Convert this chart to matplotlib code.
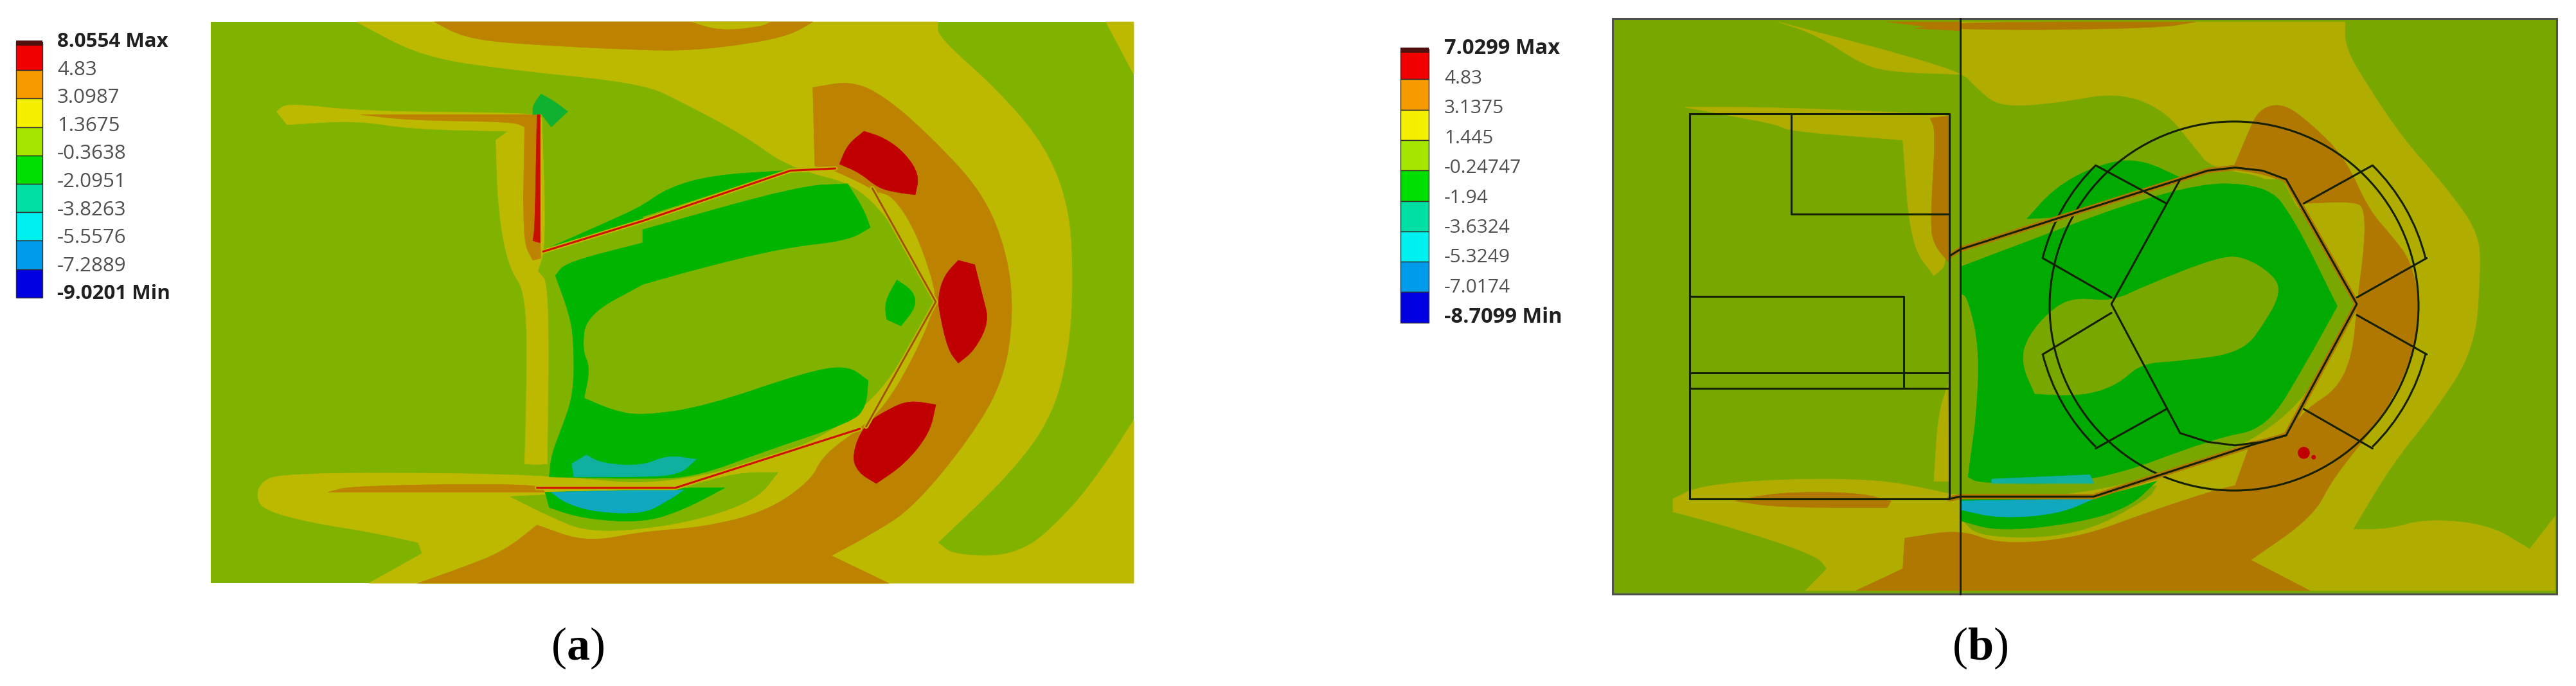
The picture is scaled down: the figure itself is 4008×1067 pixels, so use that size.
import matplotlib
matplotlib.use('Agg')
import numpy as np
import matplotlib.pyplot as plt
from matplotlib.patches import PathPatch, Rectangle, Circle, Arc
from matplotlib.path import Path

plt.rcParams['font.family'] = ['Open Sans', 'DejaVu Sans']
plt.rcParams['mathtext.fontset'] = 'custom'
plt.rcParams['mathtext.rm'] = 'Liberation Serif'
plt.rcParams['mathtext.bf'] = 'Liberation Serif:bold'

# ==========================================
# Crop coordinates -> figure pixels
# (outlines below were traced from zoomed crops of the picture)
# ==========================================
YS = 1.4695

def a1(pts):
    return [(x / 1.568, y / YS) for x, y in pts]

def a2(pts):
    return [(1000 + x / 1.568, y / YS) for x, y in pts]

def b1(pts):
    return [(2100 + x / 1.65, y / YS) for x, y in pts]

def b2(pts):
    return [(3050 + x / 1.637, y / YS) for x, y in pts]

# ==========================================
# Colour bands and legend labels
# ==========================================
BAND_COLORS = ['#F00000', '#F59B00', '#F5F000', '#A5E600', '#00E000',
               '#00E0A5', '#00F0F0', '#009BEB', '#0000E0']
LABELS_A = ['8.0554 Max', '4.83', '3.0987', '1.3675', '-0.3638', '-2.0951',
            '-3.8263', '-5.5576', '-7.2889', '-9.0201 Min']
LABELS_B = ['7.0299 Max', '4.83', '3.1375', '1.445', '-0.24747', '-1.94',
            '-3.6324', '-5.3249', '-7.0174', '-8.7099 Min']

# map colours of panel a and b
OLIVE_A, YEL_A, BRN_A, GRN_A = '#80B300', '#BDB800', '#BC8200', '#00B400'
OLIVE_B, YEL_B, BRN_B, GRN_B = '#78A800', '#B0AC00', '#B07800', '#00AA00'
RED, TEAL, CYAN = '#C00000', '#10B0A0', '#10A8BE'

# ==========================================
# Panel (a) contour regions
# ==========================================
A_YELLOW = (a1([(870, 50)]) + a2([(720, 50), (720, 85), (860, 200), (980, 330), (1040, 470), (1050, 640),
                                  (1040, 800), (1000, 950), (900, 1080), (720, 1240), (760, 1270), (920, 1270),
                                  (1040, 1170), (1130, 1060), (1198, 960), (1198, 1333)])
            + a1([(900, 1333), (1030, 1265), (1020, 1240), (900, 1215), (760, 1195), (640, 1165), (625, 1130),
                  (640, 1100), (680, 1085), (900, 1080), (1330, 1085)])
            + a2([(80, 1115), (530, 980), (715, 690), (560, 430), (360, 385), (250, 310), (100, 235), (0, 190)])
            + a1([(1250, 160), (1030, 130)]))
A_YELLOW_CORNER = a2([(1130, 50), (1198, 170), (1198, 50)])
A_BROWN_TOP = (a1([(1060, 50), (1130, 85), (1250, 100), (1568, 115)])
               + a2([(120, 115), (260, 100), (360, 80), (415, 50)]))
A_YELLOW_NOTCH = a2([(120, 50), (190, 70), (290, 60), (310, 50)])
A_BROWN_ARC = (a2([(415, 200), (510, 185), (590, 220), (700, 310), (830, 440), (890, 580), (905, 720), (880, 870),
                   (800, 1000), (660, 1160), (560, 1220), (460, 1270), (600, 1333)])
               + a1([(1020, 1333), (1120, 1300), (1230, 1260), (1310, 1200), (1430, 1240), (1568, 1215)])
               + a2([(150, 1205), (300, 1170), (410, 1100), (440, 1040), (530, 980), (590, 930), (660, 820),
                     (715, 700), (710, 650), (650, 530), (600, 450), (460, 385), (420, 380)]))
A_WEDGE = a2([(575, 440), (610, 450), (660, 520), (700, 620), (712, 670)])
A_RED_BLOBS = [
    a2([(480, 375), (500, 330), (540, 300), (590, 315), (640, 350), (675, 400), (665, 445), (620, 440),
        (575, 430), (530, 395)]),
    a2([(720, 680), (735, 630), (770, 595), (810, 605), (830, 680), (845, 735), (810, 800), (770, 830),
        (745, 800), (725, 720)]),
    a2([(510, 1040), (540, 970), (600, 935), (650, 915), (715, 925), (700, 990), (640, 1060), (570, 1105),
        (525, 1080)]),
]
A_GREEN_DOT = a2([(590, 690), (620, 640), (660, 665), (668, 700), (630, 745), (595, 730)])
A_GREEN_C = (a1([(1355, 630), (1380, 600), (1568, 555)])
             + a2([(0, 525), (380, 425), (500, 420), (540, 480), (555, 520), (500, 550), (350, 565), (150, 610),
                   (0, 650)])
             + a1([(1568, 650), (1430, 720), (1420, 800), (1440, 840), (1425, 910), (1500, 940), (1568, 950)])
             + a2([(150, 930), (400, 850), (500, 835), (550, 870), (545, 930), (510, 965), (300, 1030),
                   (130, 1090), (0, 1095)])
             + a1([(1340, 1090), (1345, 1040), (1370, 980), (1400, 900), (1400, 780), (1390, 720)]))
A_GREEN_TOP = (a2([(0, 495), (350, 390), (170, 400), (60, 430), (0, 470)])
               + a1([(1500, 500), (1330, 570), (1568, 505)]))
A_OLIVE_LOW = (a1([(1245, 1135), (1340, 1180), (1430, 1215), (1568, 1210)])
               + a2([(150, 1185), (280, 1140), (330, 1080), (230, 1080), (100, 1115)]))
A_GREEN_LOW = (a1([(1330, 1125), (1340, 1160), (1420, 1185), (1568, 1195)])
               + a2([(100, 1165), (200, 1115), (90, 1115), (0, 1120)]))
A_CYAN = (a1([(1345, 1125), (1380, 1150), (1450, 1170), (1568, 1175)])
          + a2([(60, 1145), (100, 1120), (0, 1120)]))
A_TEAL = (a1([(1395, 1060), (1430, 1040), (1470, 1060), (1568, 1065)])
          + a2([(60, 1040), (130, 1050), (90, 1085), (0, 1090)]) + a1([(1400, 1090)]))
A_YELLOW_L = a1([(675, 255), (700, 235), (880, 255), (1300, 258), (1322, 270), (1332, 560), (1312, 620), (1340, 650),
                 (1335, 1060), (1310, 1062), (1280, 1060), (1285, 900), (1285, 670), (1240, 610), (1215, 480),
                 (1210, 320), (1240, 300), (1000, 295), (870, 275), (700, 285)])
A_BROWN_L = a1([(880, 262), (1310, 262), (1318, 560), (1320, 590), (1300, 595), (1275, 550), (1280, 290),
                (1250, 278), (1000, 275)])
A_RED_L = a1([(1305, 520), (1310, 262), (1318, 262), (1318, 555), (1300, 550)])
A_GREEN_TIP = a1([(1300, 240), (1320, 215), (1350, 230), (1385, 255), (1345, 290), (1320, 260), (1300, 262)])
A_BROWN_FOOT = a1([(800, 1125), (860, 1110), (1310, 1105), (1330, 1125), (860, 1125)])
A_LINE_UPPER = a1([(1325, 575)]) + a2([(0, 505), (360, 390), (470, 385)])
A_LINE_LOWER = a1([(1310, 1115)]) + a2([(0, 1115), (80, 1115), (530, 980)])
A_CHEVRON = a2([(560, 430), (715, 690), (545, 975)])

# ==========================================
# Panel (b) contour regions
# ==========================================
B_YELLOW = (b1([(1100, 50), (1200, 80), (1320, 150), (1400, 165), (1568, 170)])
            + b2([(0, 50), (980, 50), (980, 110), (1040, 200), (1130, 320), (1230, 420), (1320, 530), (1325, 620),
                  (1310, 800), (1200, 950), (1100, 1060), (1000, 1210), (1090, 1210), (1190, 1185), (1350, 1200),
                  (1450, 1255), (1515, 1180), (1515, 1350), (890, 1350)])
            + b1([(1300, 1350), (1170, 1350), (1225, 1300), (1200, 1270), (1000, 1210), (830, 1170), (830, 1140),
                  (900, 1110), (1100, 1095), (1350, 1095), (1500, 1120), (1568, 1135)])
            + b2([(340, 1135), (830, 995), (1010, 695), (830, 410), (640, 385), (600, 340), (520, 250), (400, 210),
                  (250, 235), (100, 245), (40, 200), (0, 160)]))
B_YELLOW_L = b1([(860, 245), (1100, 245), (1530, 262), (1540, 600), (1500, 630), (1440, 560), (1420, 320),
                 (1130, 300), (1100, 285), (980, 265)])
B_YELLOW_COL = b1([(1500, 1100), (1510, 950), (1535, 880), (1540, 1100)])
B_BROWN_L = b1([(1490, 270), (1538, 265), (1538, 600), (1500, 560), (1490, 510), (1505, 300)])
B_BROWN_TOP = b1([(1380, 50), (1568, 50), (1568, 70), (1450, 65)]) + b2([(0, 50), (600, 50), (500, 65), (0, 70)])
B_BROWN_FOOT = b1([(990, 1145), (1100, 1125), (1300, 1125), (1390, 1145), (1380, 1160), (1100, 1160)])
B_BROWN_ARC = (b2([(695, 385), (730, 310), (760, 250), (820, 235), (890, 280), (980, 360), (1040, 480), (1100, 540),
                   (1150, 600), (1170, 700), (1160, 800), (1080, 950), (950, 1090), (900, 1180), (740, 1280),
                   (890, 1350)])
               + b1([(1300, 1350), (1420, 1300), (1425, 1230), (1568, 1210)])
               + b2([(100, 1245), (300, 1230), (480, 1170), (650, 1120), (700, 1110), (740, 1010), (830, 995),
                     (880, 935), (960, 890), (1000, 810), (1010, 695), (1030, 560), (1030, 480), (1010, 460),
                     (870, 465), (830, 410)]))
B_OLIVE_IN = b2([(10, 590), (560, 410), (820, 410), (990, 700), (820, 985), (340, 1125), (20, 1120), (0, 1110),
                 (0, 600)])
B_GREEN_IN = b2([(0, 610), (560, 420), (780, 420), (850, 500), (960, 700), (880, 830), (780, 980), (650, 1000),
                 (340, 1105), (50, 1105), (20, 1090), (30, 1020), (40, 960), (50, 800), (20, 680), (0, 670)])
B_ISLAND = b2([(385, 690), (480, 650), (650, 590), (720, 585), (800, 630), (815, 670), (780, 730), (720, 805),
               (560, 825), (460, 830), (400, 880), (310, 905), (190, 900), (155, 830), (170, 770), (240, 700),
               (300, 680)])
B_GREEN_TOP = b2([(170, 500), (240, 430), (340, 380), (450, 360), (570, 410), (280, 495)])
B_OLIVE_LOW = b2([(0, 1190), (60, 1230), (300, 1225), (480, 1140), (500, 1110), (340, 1140), (0, 1140)])
B_GREEN_LOW = b2([(0, 1140), (340, 1140), (500, 1100), (430, 1160), (300, 1195), (100, 1215), (0, 1190)])
B_CYAN = b2([(0, 1145), (340, 1140), (250, 1175), (100, 1185), (0, 1165)])
B_TEAL = b2([(80, 1095), (330, 1085), (340, 1105), (80, 1105)])
B_RED_DOTS_X = [3050 + 875 / 1.637, 3050 + 900 / 1.637]
B_RED_DOTS_Y = [1035 / YS, 1045 / YS]

# outline of the machine geometry drawn on top of panel (b)
B_RECTS = [b1([(873, 260), (1540, 260), (1540, 1140), (873, 1140), (873, 260)]),
           b1([(1133, 260), (1133, 490), (1537, 490)]),
           b1([(873, 678), (1422, 678), (1422, 888)]),
           b1([(873, 853), (1537, 853)]),
           b1([(873, 888), (1537, 888)])]
B_DUCT = (b1([(1540, 1140)]) + b2([(0, 1135), (340, 1135), (750, 1015)]),
          b2([(750, 1015), (830, 995), (1010, 695), (830, 410), (770, 390), (700, 383), (630, 390), (560, 410),
              (0, 570)]) + b1([(1540, 585)]))
B_ROTOR = [b2([(345, 378), (525, 465)]), b2([(210, 590), (385, 680)]), b2([(210, 810), (385, 715)]),
           b2([(345, 1025), (525, 935)]), b2([(1050, 378), (875, 465)]), b2([(1188, 590), (1010, 680)]),
           b2([(1188, 810), (1010, 720)]), b2([(1050, 1025), (875, 935)]),
           b2([(560, 410), (385, 695), (560, 990), (630, 1010), (700, 1018), (770, 1010), (830, 995)])]
CIRCLE_CENTER = (3476, 476)
CIRCLE_R = 287
MAGNET_R = 307
MAGNET_ARCS = [(194, 225.5), (134.5, 166), (-45.5, -14), (14, 45.5)]

# ==========================================
# Figure
# ==========================================
fig = plt.figure(figsize=(40.08, 10.67), dpi=100)
ax = fig.add_axes([0, 0, 1, 1])
ax.set_xlim(0, 4008)
ax.set_ylim(1067, 0)
ax.axis('off')


def smooth_path(pts, sharp_deg=55):
    # quadratic curves through the midpoints; hard corners are kept by doubling the vertex
    p = np.array(pts, dtype=float)
    n = len(p)
    q = []
    for i in range(n):
        u = p[i] - p[i - 1]
        v = p[(i + 1) % n] - p[i]
        cosang = np.dot(u, v) / (np.linalg.norm(u) * np.linalg.norm(v) + 1e-9)
        turn = np.degrees(np.arccos(np.clip(cosang, -1, 1)))
        q.append(p[i])
        if turn > sharp_deg:
            q.append(p[i])
    verts = [(q[-1] + q[0]) / 2]
    codes = [Path.MOVETO]
    for i in range(len(q)):
        verts += [q[i], (q[i] + q[(i + 1) % len(q)]) / 2]
        codes += [Path.CURVE3, Path.CURVE3]
    return Path(verts, codes)


def fill(pts, color):
    ax.add_patch(PathPatch(smooth_path(pts), facecolor=color, edgecolor=color, linewidth=0.5))


def line(pts, color, lw):
    xs, ys = zip(*pts)
    ax.plot(xs, ys, color=color, linewidth=lw, solid_capstyle='round', solid_joinstyle='round')


def colorbar(x, top, width, band, labels, label_x, label_step, size, size_bold):
    for i, c in enumerate(BAND_COLORS):
        ax.bar(x, band, width=width, bottom=top + i * band, align='edge', color=c,
               edgecolor='#303030', linewidth=1.0)
    ax.add_patch(Rectangle((x, top - 2), width, 8, facecolor='#501010', edgecolor='none'))
    for i, lab in enumerate(labels):
        bold = i == 0 or i == len(labels) - 1
        ax.text(label_x, top + i * label_step, lab, fontsize=size_bold if bold else size, va='center', ha='left',
                color='#202020' if bold else '#505050', fontweight='bold' if bold else 'normal')


# --- panel (a) ---
ax.add_patch(Rectangle((328, 34), 1436, 873, facecolor=OLIVE_A, edgecolor='none'))
fill(A_YELLOW, YEL_A)
fill(A_YELLOW_CORNER, YEL_A)
fill(A_BROWN_TOP, BRN_A)
fill(A_YELLOW_NOTCH, YEL_A)
fill(A_BROWN_ARC, BRN_A)
fill(A_WEDGE, YEL_A)
for blob in A_RED_BLOBS:
    fill(blob, RED)
fill(A_GREEN_DOT, GRN_A)
fill(A_OLIVE_LOW, OLIVE_A)
fill(A_GREEN_LOW, GRN_A)
fill(A_CYAN, CYAN)
fill(A_GREEN_C, GRN_A)
fill(A_TEAL, TEAL)
fill(A_GREEN_TOP, GRN_A)
fill(A_YELLOW_L, YEL_A)
fill(A_BROWN_L, BRN_A)
fill(A_RED_L, '#C81000')
fill(A_GREEN_TIP, '#10B030')
fill(A_BROWN_FOOT, BRN_A)
line(A_LINE_UPPER, YEL_A, 5)
line(A_LINE_UPPER, '#D01000', 2.2)
line(A_LINE_LOWER, YEL_A, 5)
line(A_LINE_LOWER, '#D01000', 2.2)
line(A_CHEVRON, YEL_A, 5)
line(A_CHEVRON, '#A05000', 2)
colorbar(25, 65, 41, 44.2, LABELS_A, 89, 43.6, 22.5, 22.5)
ax.text(899, 1008, r'($\mathbf{a}$)', fontsize=52, family='Liberation Serif', ha='center', va='center')

# --- panel (b) ---
ax.add_patch(Rectangle((2509, 29), 1469, 895, facecolor=OLIVE_B, edgecolor='#505050', linewidth=2.2))
fill(B_YELLOW, YEL_B)
fill(B_YELLOW_L, YEL_B)
fill(B_YELLOW_COL, YEL_B)
fill(B_BROWN_L, BRN_B)
fill(B_BROWN_TOP, BRN_B)
fill(B_BROWN_FOOT, BRN_B)
fill(B_BROWN_ARC, BRN_B)
fill(B_OLIVE_IN, OLIVE_B)
fill(B_GREEN_IN, GRN_B)
fill(B_ISLAND, OLIVE_B)
fill(B_GREEN_TOP, GRN_B)
fill(B_OLIVE_LOW, OLIVE_B)
fill(B_GREEN_LOW, GRN_B)
fill(B_CYAN, CYAN)
fill(B_TEAL, TEAL)
ax.scatter(B_RED_DOTS_X, B_RED_DOTS_Y, s=[180, 25], color=RED, linewidths=0, zorder=3)
for seg in B_DUCT:
    line(seg, BRN_B, 6)
for rect in B_RECTS:
    line(rect, '#152000', 2.2)
for seg in B_DUCT:
    line(seg, '#152000', 2.2)
for seg in B_ROTOR:
    line(seg, '#152000', 2.2)
ax.plot([3050, 3050], [29, 924], color='#152000', linewidth=2.2)
ax.add_patch(Circle(CIRCLE_CENTER, CIRCLE_R, fill=False, edgecolor='#152000', linewidth=2.2))
for th1, th2 in MAGNET_ARCS:
    ax.add_patch(Arc(CIRCLE_CENTER, 2 * MAGNET_R, 2 * MAGNET_R, theta1=th1, theta2=th2,
                     edgecolor='#152000', linewidth=2.2))
colorbar(2179, 76, 44, 47.3, LABELS_B, 2247, 46.4, 21.5, 23.5)
ax.text(3081, 1008, r'($\mathbf{b}$)', fontsize=52, family='Liberation Serif', ha='center', va='center')

fig.savefig('out.png', dpi=100, facecolor='white')
plt.close()
